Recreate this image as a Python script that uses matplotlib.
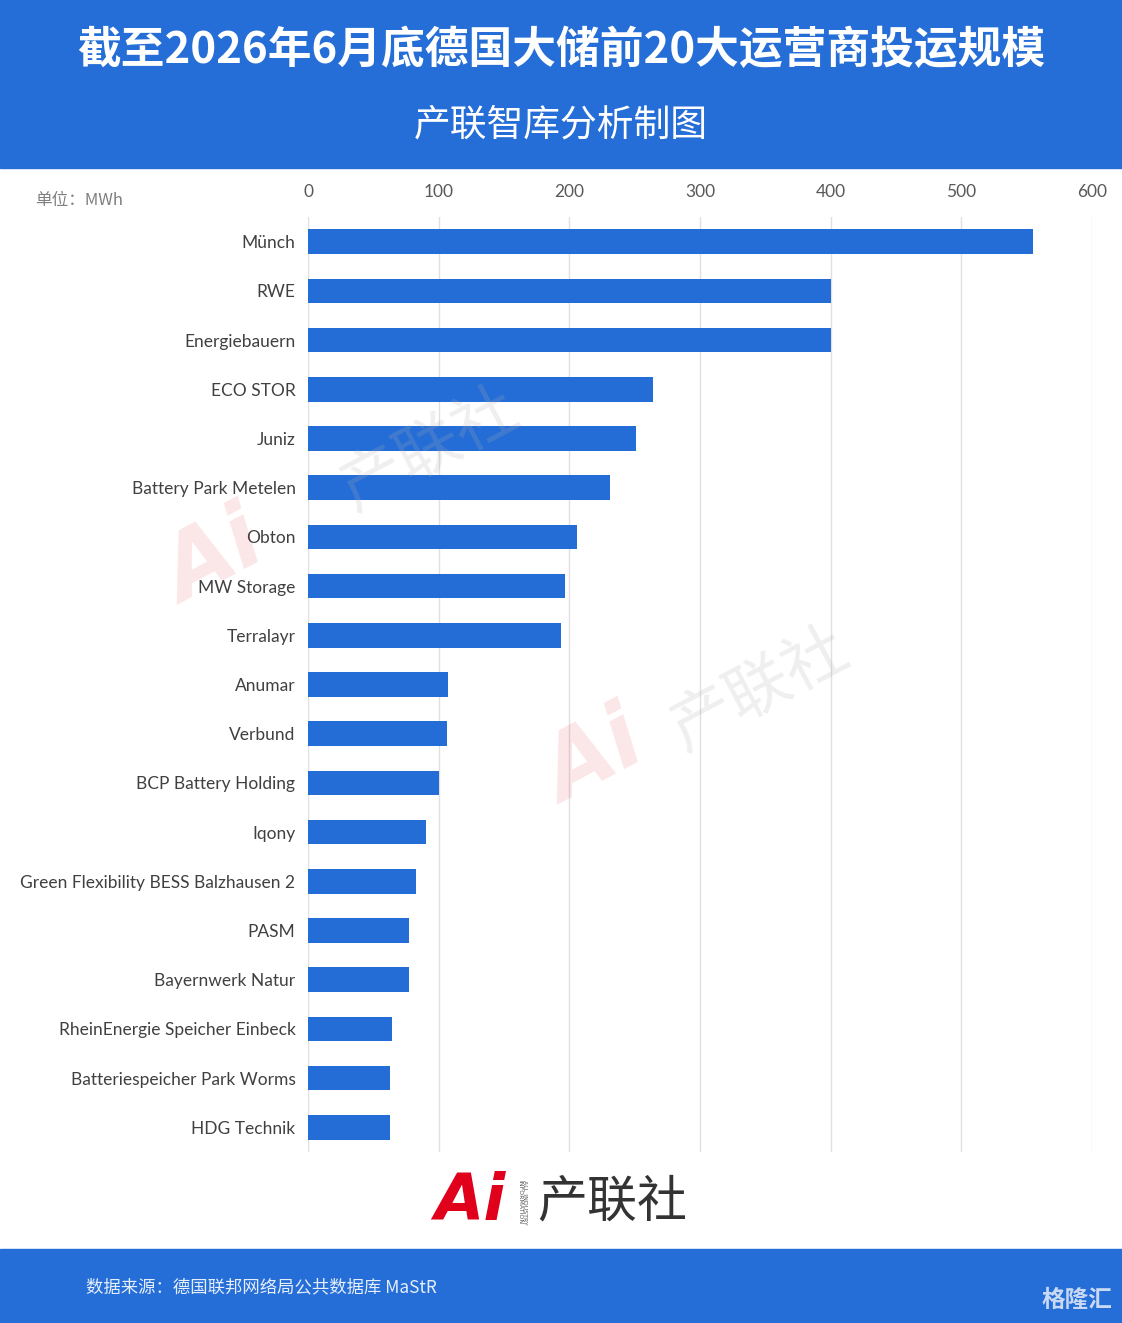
import numpy as np
import matplotlib
matplotlib.use("Agg")
import matplotlib.pyplot as plt
from matplotlib.patches import Rectangle

plt.rcParams['font.family'] = ['Lato', 'Noto Sans CJK SC', 'DejaVu Sans']

W, H = 1122, 1323
BLUE      = "#256ED7"
BAR_BLUE  = "#246DD6"
GRID      = "#E0E0E0"
TXT_GRAY  = "#595959"

TITLE    = "截至2026年6月底德国大储前20大运营商投运规模"
SUBTITLE = "产联智库分析制图"
UNIT     = "单位：MWh"
SOURCE   = "数据来源：德国联邦网络局公共数据库 MaStR"

operators = ["Münch", "RWE", "Energiebauern", "ECO STOR", "Juniz", "Battery Park Metelen",
             "Obton", "MW Storage", "Terralayr", "Anumar", "Verbund", "BCP Battery Holding",
             "Iqony", "Green Flexibility BESS Balzhausen 2", "PASM", "Bayernwerk Natur",
             "RheinEnergie Speicher Einbeck", "Batteriespeicher Park Worms", "HDG Technik"]
capacity_mwh = [555, 400, 400, 264, 251, 231, 206, 197, 194, 107, 106, 100,
                90, 83, 77, 77, 64, 63, 63]
x_ticks = [0, 100, 200, 300, 400, 500, 600]


def px(x, y):                                                                   ## pixel (top-left origin) -> figure fraction
    return x / W, 1 - y / H


fig = plt.figure(figsize=(W / 100, H / 100), dpi=100)
fig.patches.append(Rectangle(px(0, 168), 1, 168 / H, transform=fig.transFigure, color=BLUE, zorder=0))
fig.patches.append(Rectangle((0, 0), 1, 74 / H, transform=fig.transFigure, color=BLUE, zorder=0))

fig.text(*px(561, 50), TITLE, color="white", fontsize=31.5, fontweight="bold",
         family=['Noto Sans CJK SC'], ha="center", va="center")
fig.text(*px(561, 125), SUBTITLE, color="white", fontsize=26.5, fontweight="light",
         family=['Noto Sans CJK SC'], ha="center", va="center")
fig.text(*px(35, 200), UNIT, color="#7F7F7F", fontsize=12,
         family=['Noto Sans CJK SC'], ha="left", va="center")
fig.text(*px(86, 1287), SOURCE, color="#E6EEFA", fontsize=12.5,
         family=['Noto Sans CJK SC'], ha="left", va="center")
fig.text(*px(1112, 1300), "格隆汇", color="#C9D9F3", fontsize=17, fontweight="bold",
         family=['Noto Sans CJK SC'], ha="right", va="center")

## chart area
ax = fig.add_axes([308 / W, 1 - 1152 / H, 784 / W, 935 / H])
y = np.arange(len(operators))
ax.barh(y, capacity_mwh, height=0.5, color=BAR_BLUE, zorder=3)
ax.set_xlim(0, 600)
ax.set_ylim(len(operators) - 0.5, -0.5)
ax.set_xticks(x_ticks)
ax.xaxis.tick_top()
ax.tick_params(axis="x", length=0, pad=12, labelsize=12.5, labelcolor=TXT_GRAY)
ax.set_yticks(y)
ax.set_yticklabels(operators)
ax.tick_params(axis="y", length=0, pad=9, labelsize=12.5, labelcolor="#404040")
ax.grid(axis="x", color=GRID, linewidth=1, zorder=0)
for s in ax.spines.values():
    s.set_visible(False)

## faint watermarks
for (wx, wy) in [(430, 450), (760, 690)]:
    fig.text(*px(wx, wy), "产联社", color="#B0B0B0", alpha=0.2, fontsize=46, rotation=28,
             family=['Noto Sans CJK SC'], ha="center", va="center", zorder=5)
for (wx, wy) in [(215, 560), (595, 760)]:
    fig.text(*px(wx, wy), "Ai", color="#E0001B", alpha=0.1, fontsize=64, fontweight="bold",
             style="italic", rotation=28, family=['DejaVu Sans'], ha="center", va="center", zorder=5)

## bottom logo
fig.text(*px(470, 1202), "Ai", color="#E0001B", fontsize=46, fontweight="bold", style="italic",
         family=['DejaVu Sans'], ha="center", va="center")
fig.text(*px(522, 1202), "ALL INDUSTRY\nINFORMATION", color="#555555", fontsize=4.5, rotation=-90,
         family=['DejaVu Sans'], ha="center", va="center", linespacing=1.0)
fig.text(*px(612, 1202), "产联社", color="#333333", fontsize=36,
         family=['Noto Sans CJK SC'], ha="center", va="center")

fig.savefig("out.png", dpi=100)
